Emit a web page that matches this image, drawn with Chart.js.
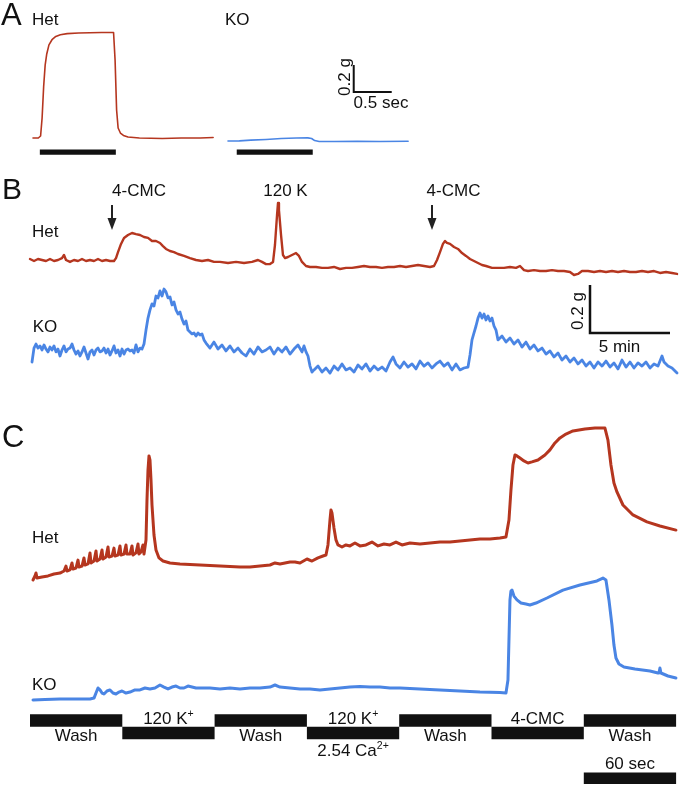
<!DOCTYPE html>
<html>
<head>
<meta charset="utf-8">
<title>Het / KO contraction traces</title>
<script src="https://cdn.jsdelivr.net/npm/chart.js@4.4.1/dist/chart.umd.min.js"></script>
<style>
  body { margin: 0; background: #fff; }
  #fig { position: relative; width: 680px; height: 787px; overflow: hidden;
         font-family: "Liberation Sans", Arial, Helvetica, sans-serif; color: #111; }
  #fig canvas { position: absolute; left: 0; }
  .lbl { position: absolute; white-space: nowrap; line-height: 1; z-index: 2; }
  .lbl sup { font-size: 0.62em; line-height: 0; vertical-align: 0.62em; }
</style>
</head>
<body>
<div id="fig">
  <canvas id="panelA" width="680" height="170" style="top:0px"></canvas>
  <canvas id="panelB" width="680" height="220" style="top:170px"></canvas>
  <canvas id="panelC" width="680" height="407" style="top:380px"></canvas>
</div>
<script>
const RED = '#b5361f';
const BLUE = '#4a85e4';
const INK = '#111';

// ---- A: single stimulation, time in s, force in g
const hetA_t = [0, 0.07, 0.1, 0.12, 0.14, 0.16, 0.18, 0.21, 0.25, 0.3, 0.36, 0.45, 0.6, 0.75, 0.9, 1.0,
  1.06, 1.08, 1.1, 1.12, 1.15, 1.19, 1.25, 1.4, 1.7, 1.95, 2.2, 2.37];
const hetA_g = [0, 0, 0.015, 0.15, 0.38, 0.54, 0.62, 0.69, 0.728, 0.752, 0.765, 0.773, 0.778, 0.78, 0.781, 0.782,
  0.782, 0.578, 0.207, 0.074, 0.037, 0.019, 0.007, 0, -0.004, 0, 0, 0.004];
const koA_t = [0, 0.15, 0.3, 0.5, 0.7, 0.9, 1.05, 1.1, 1.14, 1.2, 1.4, 1.7, 2.0, 2.37];
const koA_g = [-0.022, -0.021, -0.016, -0.011, -0.004, 0, 0.001, -0.004, -0.019, -0.026, -0.026, -0.024, -0.026, -0.024];
const stimA_het = [0.09, 1.09];
const stimA_ko = [0.115, 1.115];

// ---- B: 4-CMC / 120 K responses, time in min, force in g
const hetB_t = [0, 0.25, 0.5, 0.75, 1, 1.25, 1.5, 1.75, 2, 2.125,
  2.25, 2.5, 2.75, 3, 3.25, 3.5, 3.75, 4, 4.25, 4.5,
  4.75, 5, 5.25, 5.375, 5.5, 5.69, 5.875, 6.125, 6.375, 6.625,
  6.875, 7.125, 7.375, 7.625, 7.875, 8.125, 8.31, 8.5, 8.75, 9,
  9.25, 9.625, 10, 10.375, 10.75, 11.125, 11.5, 11.875, 12.375, 12.875,
  13.375, 13.875, 14.25, 14.5, 14.75, 15, 15.19, 15.31, 15.44, 15.5,
  15.56, 15.69, 15.81, 15.94, 16.125, 16.375, 16.625, 16.81, 17, 17.25,
  17.5, 17.875, 18.25, 18.625, 19, 19.375, 19.75, 20.125, 20.5, 20.875,
  21.25, 21.625, 22, 22.375, 22.75, 23.125, 23.5, 23.875, 24.25, 24.625,
  25, 25.25, 25.44, 25.625, 25.81, 25.94, 26.06, 26.25, 26.5, 26.75,
  27, 27.25, 27.5, 27.75, 28, 28.25, 28.5, 28.875, 29.25, 29.625,
  30, 30.375, 30.625, 30.875, 31.125, 31.5, 31.875, 32.25, 32.625, 33,
  33.375, 33.75, 34, 34.25, 34.5, 34.875, 35.25, 35.625, 36, 36.375,
  36.75, 37.125, 37.5, 37.875, 38.25, 38.625, 39, 39.375, 39.75, 40.125,
  40.44];
const hetB_g = [0.004, -0.004, 0.004, 0, -0.004, 0.004, -0.004, 0, 0.008, 0.021,
  0, -0.008, 0, -0.004, 0.004, -0.004, 0, -0.004, 0.004, -0.004,
  0, -0.004, -0.004, 0.008, 0.033, 0.067, 0.092, 0.104, 0.1125, 0.108,
  0.104, 0.096, 0.092, 0.079, 0.079, 0.071, 0.058, 0.046, 0.0375, 0.033,
  0.025, 0.017, 0.008, 0, -0.004, 0, -0.008, -0.008, -0.0125, -0.008,
  -0.0125, -0.008, 0, -0.008, -0.017, -0.017, -0.008, 0.0625, 0.1875, 0.2375,
  0.208, 0.104, 0.021, 0.008, 0.0125, 0.021, 0.029, 0.017, -0.008, -0.025,
  -0.029, -0.029, -0.033, -0.033, -0.029, -0.0375, -0.033, -0.033, -0.029, -0.025,
  -0.029, -0.029, -0.033, -0.029, -0.029, -0.025, -0.029, -0.025, -0.021, -0.025,
  -0.029, -0.025, 0, 0.033, 0.067, 0.079, 0.071, 0.067, 0.054, 0.046,
  0.029, 0.017, 0.004, -0.004, -0.0125, -0.021, -0.025, -0.033, -0.033, -0.033,
  -0.029, -0.033, -0.025, -0.042, -0.046, -0.042, -0.046, -0.046, -0.042, -0.046,
  -0.046, -0.05, -0.0625, -0.058, -0.046, -0.046, -0.05, -0.046, -0.05, -0.046,
  -0.05, -0.046, -0.05, -0.05, -0.046, -0.05, -0.046, -0.054, -0.05, -0.054,
  -0.058];
const koB_t = [0.125, 0.25, 0.375, 0.5, 0.625, 0.75, 0.875, 1.0, 1.125, 1.25,
  1.375, 1.5, 1.625, 1.75, 1.875, 2.0, 2.125, 2.25, 2.375, 2.5,
  2.625, 2.75, 2.875, 3.0, 3.125, 3.25, 3.375, 3.5, 3.625, 3.75,
  3.875, 4.0, 4.125, 4.25, 4.375, 4.5, 4.625, 4.75, 4.875, 5.0,
  5.125, 5.25, 5.375, 5.5, 5.625, 5.75, 5.875, 6.0, 6.125, 6.25,
  6.375, 6.5, 6.625, 6.75, 6.875, 7.0, 7.125, 7.25, 7.375, 7.5,
  7.625, 7.75, 7.875, 8.0, 8.125, 8.25, 8.375, 8.5, 8.625, 8.75,
  8.875, 9.0, 9.125, 9.25, 9.375, 9.5, 9.625, 9.75, 9.875, 10.0,
  10.125, 10.25, 10.375, 10.5, 10.625, 10.75, 10.875, 11.0, 11.25, 11.5,
  11.75, 12.0, 12.25, 12.5, 12.75, 13.0, 13.25, 13.5, 13.75, 14.0,
  14.25, 14.5, 14.75, 15.0, 15.25, 15.5, 15.75, 16.0, 16.25, 16.5,
  16.75, 17.0, 17.125, 17.25, 17.375, 17.5, 17.625, 17.75, 18.0, 18.25,
  18.5, 18.75, 19.0, 19.25, 19.5, 19.75, 20.0, 20.25, 20.5, 20.75,
  21.0, 21.25, 21.5, 21.75, 22.0, 22.25, 22.5, 22.69, 22.875, 23.125,
  23.375, 23.625, 23.875, 24.125, 24.375, 24.625, 24.875, 25.125, 25.375, 25.625,
  25.875, 26.125, 26.375, 26.625, 26.875, 27.125, 27.375, 27.5, 27.625, 27.75,
  27.875, 28.0, 28.125, 28.25, 28.375, 28.5, 28.625, 28.75, 28.875, 29.0,
  29.125, 29.25, 29.5, 29.75, 30.0, 30.25, 30.5, 30.75, 31.0, 31.25,
  31.5, 31.75, 32.0, 32.25, 32.5, 32.75, 33.0, 33.25, 33.5, 33.75,
  34.0, 34.25, 34.5, 34.75, 35.0, 35.25, 35.5, 35.75, 36.0, 36.25,
  36.5, 36.75, 37.0, 37.25, 37.5, 37.75, 38.0, 38.25, 38.5, 38.75,
  39.0, 39.25, 39.5, 39.625, 39.875, 40.125, 40.44];
const koB_g = [-0.05, 0.008, 0.025, 0.008, 0.017, 0, 0.021, 0.004, -0.008, 0.0125,
  0, 0.017, -0.008, 0.004, -0.025, 0, 0.017, -0.008, 0.004, 0.008,
  0.025, 0, -0.017, -0.004, -0.025, -0.008, 0.0125, -0.0125, -0.0375, -0.008,
  0, -0.021, 0, 0.008, -0.008, -0.004, 0.008, -0.0125, 0.004, -0.021,
  -0.004, 0.017, -0.0125, 0, -0.025, 0.004, -0.017, 0, 0.004, -0.004,
  0, -0.0125, 0.021, -0.008, 0.008, 0.004, 0.025, 0.083, 0.133, 0.167,
  0.192, 0.183, 0.225, 0.217, 0.246, 0.225, 0.254, 0.242, 0.217, 0.221,
  0.1875, 0.2, 0.167, 0.15, 0.158, 0.129, 0.108, 0.121, 0.083, 0.075,
  0.067, 0.071, 0.058, 0.071, 0.0625, 0.067, 0.042, 0.029, 0.008, 0.033,
  0.004, 0.021, -0.004, 0.017, -0.008, 0.008, -0.0125, -0.025, 0.004, -0.017,
  0.0125, -0.008, 0, 0.0125, -0.017, 0.008, -0.008, 0.0125, -0.017, 0.004,
  0.021, -0.008, 0.017, -0.008, -0.025, -0.067, -0.092, -0.083, -0.067, -0.092,
  -0.075, -0.096, -0.067, -0.083, -0.058, -0.083, -0.075, -0.092, -0.0625, -0.079,
  -0.058, -0.0875, -0.067, -0.083, -0.071, -0.0875, -0.05, -0.029, -0.058, -0.075,
  -0.05, -0.071, -0.058, -0.079, -0.046, -0.067, -0.054, -0.075, -0.058, -0.046,
  -0.067, -0.054, -0.083, -0.058, -0.083, -0.075, -0.071, -0.021, 0.042, 0.071,
  0.1, 0.133, 0.154, 0.133, 0.15, 0.125, 0.142, 0.121, 0.133, 0.1,
  0.083, 0.042, 0.058, 0.033, 0.05, 0.025, 0.042, 0.0125, 0.033, 0.004,
  0.021, -0.004, 0.008, -0.017, -0.004, -0.029, -0.0125, -0.042, -0.025, -0.05,
  -0.033, -0.058, -0.042, -0.067, -0.05, -0.075, -0.05, -0.067, -0.046, -0.071,
  -0.054, -0.079, -0.042, -0.071, -0.05, -0.075, -0.054, -0.067, -0.05, -0.075,
  -0.058, -0.067, -0.025, -0.05, -0.067, -0.075, -0.096];
const cmcB_t = [5.125, 25.125];

// ---- C: solution protocol, time in s, force in g
const hetC_t = [1.95, 3.25, 3.9, 4.55, 7.8, 11.7, 15.6, 19.5, 22.1, 23.4,
  24.05, 26.0, 27.3, 27.95, 29.9, 31.2, 31.85, 33.8, 35.1, 35.75,
  37.7, 39.0, 39.65, 41.6, 42.9, 43.55, 45.5, 46.8, 47.45, 49.4,
  50.7, 51.35, 53.3, 54.6, 55.25, 57.2, 58.5, 59.15, 61.1, 62.4,
  63.05, 65.0, 66.3, 66.95, 68.9, 70.2, 70.85, 72.15, 73.45, 74.1,
  75.4, 76.05, 76.7, 77.35, 78.0, 78.65, 79.3, 80.6, 81.9, 83.85,
  86.45, 91.0, 97.5, 110.5, 123.5, 136.5, 143.0, 149.5, 156.0, 159.25,
  162.5, 169.0, 172.25, 175.5, 180.05, 183.3, 187.2, 190.45, 192.4, 193.7,
  195.0, 195.65, 196.3, 197.6, 198.9, 200.2, 202.8, 205.4, 208.0, 211.25,
  214.5, 218.4, 222.3, 226.2, 230.1, 234.0, 237.9, 241.8, 247.0, 253.5,
  260.0, 266.5, 273.0, 279.5, 286.0, 292.5, 299.0, 305.5, 309.4, 311.35,
  312.65, 313.95, 315.25, 316.55, 318.5, 321.1, 323.7, 326.3, 330.2, 334.75,
  338.0, 341.25, 344.5, 348.4, 352.95, 360.75, 367.25, 373.75, 375.7, 377.65,
  379.6, 381.55, 385.45, 391.95, 401.05, 409.5, 419.9];
const hetC_g = [0, 0.017, 0.029, 0.008, 0.0125, 0.017, 0.025, 0.029, 0.0375, 0.058,
  0.0375, 0.042, 0.071, 0.046, 0.05, 0.083, 0.054, 0.058, 0.092, 0.0625,
  0.067, 0.1125, 0.071, 0.079, 0.121, 0.079, 0.0875, 0.125, 0.0875, 0.096,
  0.1375, 0.096, 0.1, 0.133, 0.1, 0.104, 0.142, 0.104, 0.108, 0.146,
  0.108, 0.108, 0.142, 0.104, 0.113, 0.15, 0.108, 0.117, 0.146, 0.108,
  0.167, 0.333, 0.458, 0.517, 0.5, 0.417, 0.3125, 0.1875, 0.125, 0.092,
  0.079, 0.071, 0.067, 0.0625, 0.058, 0.054, 0.054, 0.058, 0.0625, 0.071,
  0.067, 0.075, 0.075, 0.071, 0.0875, 0.079, 0.092, 0.1, 0.104, 0.146,
  0.25, 0.292, 0.279, 0.217, 0.167, 0.146, 0.1375, 0.146, 0.142, 0.154,
  0.142, 0.146, 0.158, 0.142, 0.15, 0.146, 0.158, 0.146, 0.154, 0.15,
  0.154, 0.158, 0.158, 0.1625, 0.167, 0.171, 0.171, 0.175, 0.179, 0.25,
  0.375, 0.479, 0.521, 0.517, 0.508, 0.496, 0.4875, 0.492, 0.5, 0.521,
  0.542, 0.571, 0.592, 0.608, 0.621, 0.629, 0.633, 0.633, 0.583, 0.479,
  0.404, 0.367, 0.3125, 0.271, 0.242, 0.225, 0.208];
const koC_t = [1.95, 9.75, 19.5, 29.25, 39.0, 41.6, 42.9, 44.2, 45.5, 46.8,
  48.1, 50.05, 52.0, 53.95, 55.9, 57.85, 59.8, 62.4, 65.0, 68.25,
  71.5, 74.75, 78.0, 81.25, 84.5, 87.1, 89.7, 92.3, 94.9, 97.5,
  100.1, 102.7, 105.3, 107.9, 110.5, 117.0, 123.5, 130.0, 136.5, 143.0,
  149.5, 156.0, 159.25, 162.5, 169.0, 175.5, 182.0, 188.5, 195.0, 201.5,
  208.0, 214.5, 221.0, 227.5, 234.0, 240.5, 253.5, 266.5, 279.5, 292.5,
  305.5, 309.4, 310.7, 311.35, 312.0, 312.65, 313.3, 314.6, 316.55, 319.15,
  322.4, 325.0, 328.9, 336.05, 346.45, 357.5, 368.55, 372.45, 374.4, 376.35,
  378.3, 379.6, 380.9, 382.85, 386.1, 393.25, 403.0, 408.2, 408.85, 409.5,
  410.15, 414.7, 419.9];
const koC_g = [0, 0.002, 0.004, 0.004, 0.004, 0.008, 0.029, 0.05, 0.042, 0.029,
  0.025, 0.0375, 0.042, 0.029, 0.025, 0.033, 0.0375, 0.029, 0.033, 0.042,
  0.042, 0.05, 0.046, 0.05, 0.0625, 0.054, 0.046, 0.054, 0.058, 0.05,
  0.05, 0.058, 0.054, 0.05, 0.05, 0.05, 0.046, 0.05, 0.046, 0.05,
  0.05, 0.054, 0.0625, 0.054, 0.05, 0.046, 0.046, 0.042, 0.046, 0.05,
  0.054, 0.056, 0.054, 0.054, 0.05, 0.05, 0.046, 0.042, 0.0375, 0.033,
  0.031, 0.029, 0.083, 0.25, 0.417, 0.454, 0.458, 0.433, 0.417, 0.404,
  0.4, 0.396, 0.404, 0.425, 0.458, 0.479, 0.496, 0.508, 0.5, 0.417,
  0.3125, 0.229, 0.175, 0.15, 0.1375, 0.129, 0.121, 0.1125, 0.1125, 0.133,
  0.1125, 0.1, 0.092];
const protoNames = ['Wash', '120 K<sup>+</sup>', 'Wash', '120 K<sup>+</sup>', 'Wash', '4-CMC', 'Wash'];
const protoNotes = ['', '', '', '2.54 Ca<sup>2+</sup>', '', '', ''];
const protoLevel = [1, 0, 1, 0, 1, 0, 1];
const protoDur = 60;

// ---- layout (pixels)
const LA = { w: 680, h: 170, x0Het: 33, x0KO: 228, pxPerS: 76, y0: 138, pxPerG: 135 };
const LB = { w: 680, h: 220, x0: 30, pxPerMin: 16, y0Het: 90, y0KO: 180, pxPerG: 240 };
const LC = { w: 680, h: 407, x0: 30, pxPerS: 92.3 / 60, y0Het: 200, y0KO: 320, pxPerG: 240, y0P: 353, pxPerLevel: 12.5 };

function span(origin, ppu, size, down) {
  if (down) return { min: (origin - size) / ppu, max: origin / ppu };
  return { min: -origin / ppu, max: (size - origin) / ppu };
}
function axis(r) {
  return { type: 'linear', display: false, min: r.min, max: r.max };
}
function xy(ts, vs) {
  return ts.map((t, i) => ({ x: t, y: vs[i] }));
}
function line(data, color, width, xID, yID, extra) {
  return Object.assign({
    data: data, borderColor: color, borderWidth: width, pointRadius: 0, tension: 0,
    fill: false, clip: false, xAxisID: xID, yAxisID: yID,
    borderJoinStyle: 'round', borderCapStyle: 'round'
  }, extra || {});
}
const bar = { borderCapStyle: 'butt', borderJoinStyle: 'miter' };

function options(scales) {
  return {
    responsive: false, animation: false, devicePixelRatio: 1,
    layout: { padding: 0 },
    plugins: { legend: { display: false }, tooltip: { enabled: false } },
    scales: scales
  };
}

// panel A
const scaleA = { t: 4.22, g: 0.34 };
new Chart(document.getElementById('panelA'), {
  type: 'line',
  data: {
    datasets: [
      line(xy(hetA_t, hetA_g), RED, 1.6, 'x', 'y'),
      line(xy(koA_t, koA_g), BLUE, 1.6, 'xKO', 'y'),
      line([{ x: stimA_het[0], y: -0.104 }, { x: stimA_het[1], y: -0.104 }], INK, 5.3, 'x', 'y', bar),
      line([{ x: stimA_ko[0], y: -0.104 }, { x: stimA_ko[1], y: -0.104 }], INK, 5.3, 'xKO', 'y', bar),
      line([{ x: scaleA.t, y: scaleA.g + 0.2 }, { x: scaleA.t, y: scaleA.g }, { x: scaleA.t + 0.5, y: scaleA.g }],
        INK, 2, 'x', 'y', bar)
    ]
  },
  options: options({
    x: axis(span(LA.x0Het, LA.pxPerS, LA.w)),
    xKO: axis(span(LA.x0KO, LA.pxPerS, LA.w)),
    y: axis(span(LA.y0, LA.pxPerG, LA.h, true))
  })
});

// panel B
const scaleB = { t: 35, g: -0.304 };
const arrowB = { top: 0.229, tip: 0.125 };
const arrows = {
  id: 'arrows',
  afterDatasetsDraw(chart) {
    const ctx = chart.ctx, sx = chart.scales.x, sy = chart.scales.yHet;
    ctx.save();
    ctx.strokeStyle = '#222';
    ctx.fillStyle = '#222';
    ctx.lineWidth = 2;
    cmcB_t.forEach(t => {
      const px = sx.getPixelForValue(t);
      const top = sy.getPixelForValue(arrowB.top), tip = sy.getPixelForValue(arrowB.tip);
      ctx.beginPath();
      ctx.moveTo(px, top);
      ctx.lineTo(px, tip - 9);
      ctx.stroke();
      ctx.beginPath();
      ctx.moveTo(px - 4.5, tip - 12);
      ctx.lineTo(px + 4.5, tip - 12);
      ctx.lineTo(px, tip);
      ctx.closePath();
      ctx.fill();
    });
    ctx.restore();
  }
};
new Chart(document.getElementById('panelB'), {
  type: 'line',
  data: {
    datasets: [
      line(xy(hetB_t, hetB_g), RED, 2.4, 'x', 'yHet'),
      line(xy(koB_t, koB_g), BLUE, 2.8, 'x', 'yKO'),
      line([{ x: scaleB.t, y: scaleB.g + 0.2 }, { x: scaleB.t, y: scaleB.g }, { x: scaleB.t + 5, y: scaleB.g }],
        INK, 2.5, 'x', 'yHet', bar)
    ]
  },
  options: options({
    x: axis(span(LB.x0, LB.pxPerMin, LB.w)),
    yHet: axis(span(LB.y0Het, LB.pxPerG, LB.h, true)),
    yKO: axis(span(LB.y0KO, LB.pxPerG, LB.h, true))
  }),
  plugins: [arrows]
});

// panel C
const protoPts = [];
protoLevel.forEach((lvl, i) => {
  protoPts.push({ x: i * protoDur, y: lvl }, { x: (i + 1) * protoDur, y: lvl }, { x: (i + 1) * protoDur, y: null });
});
const scaleC = { t: 360, level: -3.62 };
const chartC = new Chart(document.getElementById('panelC'), {
  type: 'line',
  data: {
    datasets: [
      line(xy(hetC_t, hetC_g), RED, 3, 'x', 'yHet'),
      line(xy(koC_t, koC_g), BLUE, 3, 'x', 'yKO'),
      line(protoPts, INK, 12.5, 'x', 'yP', Object.assign({ spanGaps: false }, bar)),
      line([{ x: scaleC.t, y: scaleC.level }, { x: scaleC.t + 60, y: scaleC.level }], INK, 11.5, 'x', 'yP', bar)
    ]
  },
  options: options({
    x: axis(span(LC.x0, LC.pxPerS, LC.w)),
    yHet: axis(span(LC.y0Het, LC.pxPerG, LC.h, true)),
    yKO: axis(span(LC.y0KO, LC.pxPerG, LC.h, true)),
    yP: axis(span(LC.y0P, LC.pxPerLevel, LC.h, true))
  })
});

// ---- text
const fig = document.getElementById('fig');
function label(html, x, base, o) {
  o = o || {};
  const size = o.size || 17;
  const el = document.createElement('div');
  el.className = 'lbl';
  el.innerHTML = html;
  el.style.fontSize = size + 'px';
  el.style.left = x + 'px';
  el.style.top = (base - 0.8465 * size) + 'px';
  if (o.center) el.style.transform = 'translateX(-50%)';
  fig.appendChild(el);
}
function vlabel(text, cx, cy) {
  const el = document.createElement('div');
  el.className = 'lbl';
  el.textContent = text;
  el.style.fontSize = '17px';
  el.style.left = cx + 'px';
  el.style.top = cy + 'px';
  el.style.transform = 'translate(-50%, -50%) rotate(-90deg)';
  fig.appendChild(el);
}

label('A', 1, 25.7, { size: 31 });
label('Het', 32, 25);
label('KO', 225, 25);
vlabel('0.2 g', 343.5, 76.7);
label('0.5 sec', 381, 108, { center: true });

label('B', 2, 199, { size: 30 });
label('4-CMC', 139, 196, { center: true });
label('120 K', 285.5, 196, { center: true });
label('4-CMC', 453.5, 196, { center: true });
label('Het', 32, 237);
label('KO', 32.7, 332);
vlabel('0.2 g', 577, 311);
label('5 min', 619.5, 352, { center: true });

label('C', 2, 447, { size: 31 });
label('Het', 32, 543);
label('KO', 32, 690);
const sx = chartC.scales.x;
protoNames.forEach((name, i) => {
  const cx = sx.getPixelForValue((i + 0.5) * protoDur);
  label(name, cx, protoLevel[i] ? 741.7 : 724, { center: true });
  if (protoNotes[i]) label(protoNotes[i], cx, 756, { center: true });
});
label('60 sec', sx.getPixelForValue(scaleC.t + 30), 769, { center: true });
</script>
</body>
</html>
